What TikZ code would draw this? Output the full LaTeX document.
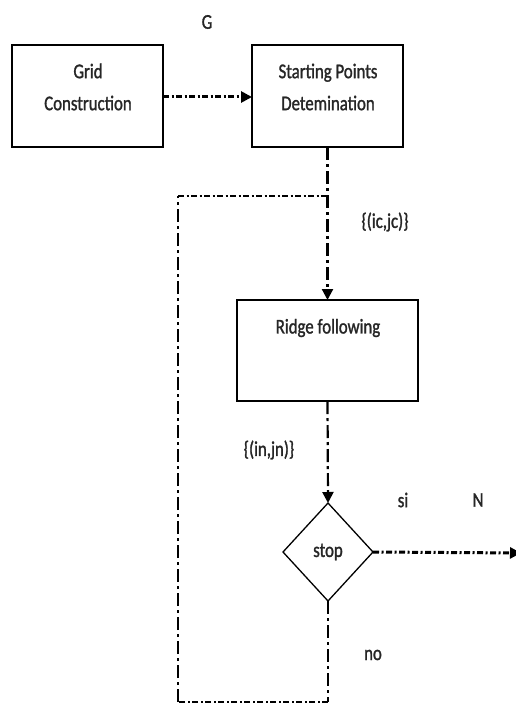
\documentclass[tikz,border=0pt]{standalone}
\usepackage{fontspec}
\setmainfont{Carlito}[FakeStretch=0.8,FakeBold=1.3,AutoFakeBold=1.3]
\usetikzlibrary{arrows.meta,shapes.geometric}
\begin{document}
\begin{tikzpicture}[x=1pt,y=-1pt,
  box/.style={draw,line width=1.6pt,minimum width=151pt,minimum height=102pt,inner sep=0pt,outer sep=0pt,anchor=north west},
  lbl/.style={font=\fontsize{21}{32}\selectfont\bfseries,inner sep=0pt,text=black!85},
  hflow/.style={line width=3pt,dash pattern=on 6pt off 2.5pt on 2pt off 2.5pt},
  vflow/.style={line width=2.2pt,dash pattern=on 13pt off 4pt on 3pt off 4pt},
  tip/.style={-{Triangle[length=11pt,width=11pt]}}
]
\useasboundingbox (0,0) rectangle (516,706);
\node[box] (grid) at (12,45) {};
\node[lbl,align=center] at (88,87) {Grid\\Construction};
\node[box] (start) at (252,45) {};
\node[lbl,align=center] at (328,87) {Starting Points\\Detemination};
\node[box,minimum width=181pt,minimum height=101pt] (ridge) at (237,300) {};
\node[lbl] at (328,328) {Ridge following};
\node[draw,diamond,line width=1.3pt,minimum width=90pt,minimum height=98pt,inner sep=0pt,outer sep=0pt,font=\fontsize{21}{24}\selectfont\bfseries,text=black!85] (stop) at (328,552) {stop};
\node[lbl] (G) at (207,22) {G};
\node[lbl] (icjc) at (385,222) {\{(ic,jc)\}};
\node[lbl] (injn) at (269,450) {\{(in,jn)\}};
\node[lbl] (si) at (403,500) {si};
\node[lbl] (N) at (478,500) {N};
\node[lbl] (no) at (373,655) {no};
\coordinate (out) at (521,553);
\coordinate (join) at (328,196);
\coordinate (bl) at (178,702);
\coordinate (br) at (328,702);
\draw[hflow,tip] (grid.east |- 0,97) -- (start.west |- 0,97);
\draw[vflow,tip] (start.south) -- (ridge.north);
\draw[vflow,tip] (ridge.south) -- (stop.north);
\draw[hflow,tip] (stop.east) -- (out);
\draw[vflow] (stop.south) -- (br);
\draw[hflow,line width=2.2pt] (br) -- (bl);
\draw[vflow,line width=1.8pt] (bl) -- (bl |- join);
\draw[hflow,line width=2.2pt] (bl |- join) -- (join);
\end{tikzpicture}
\end{document}
